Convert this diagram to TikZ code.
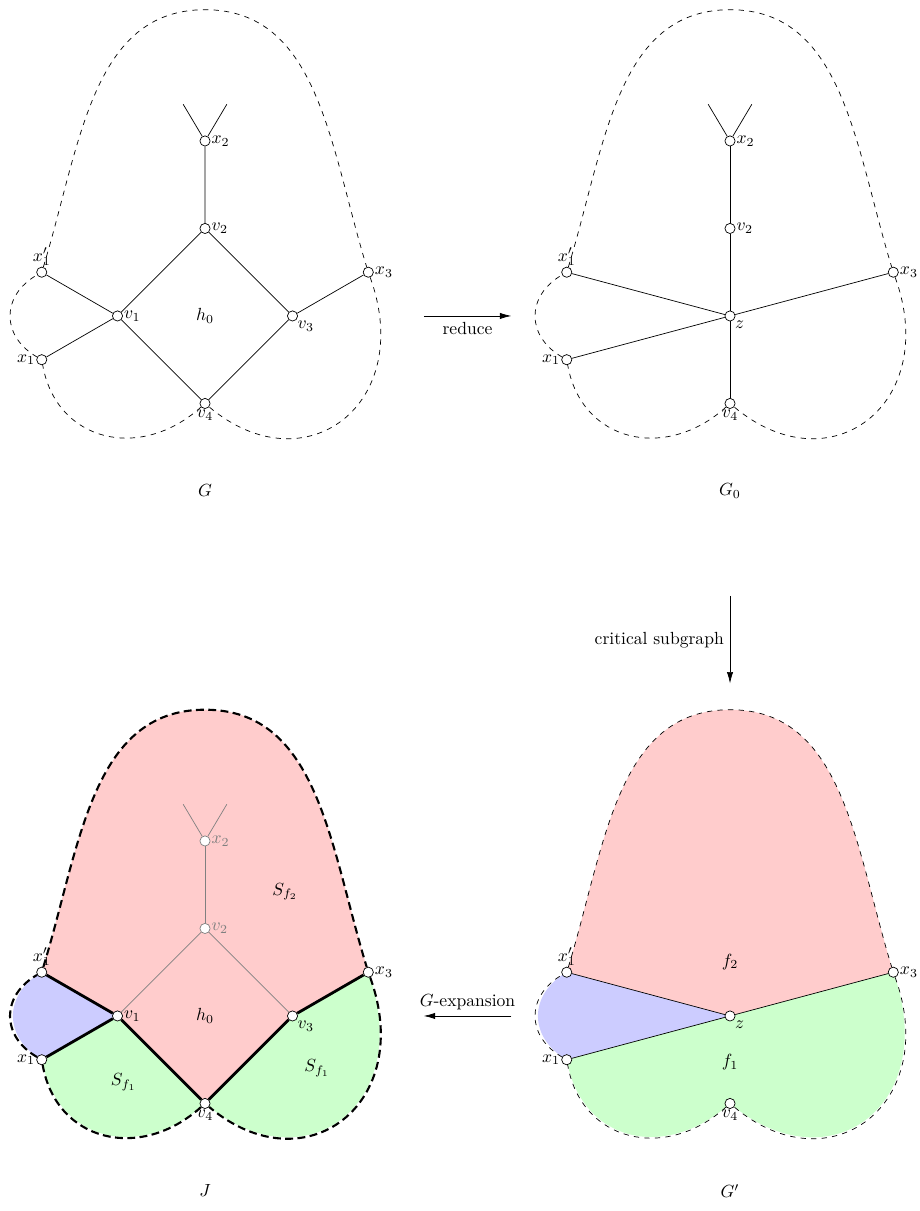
\documentclass[tikz,border=0pt]{standalone}
\usetikzlibrary{arrows.meta}
\tikzset{
  vert/.style={circle, draw, fill=white, inner sep=0pt, minimum size=5.8pt},
  lbl/.style={inner sep=0.5pt},
  rim/.style={dashed},
  bigrim/.style={very thick, dash pattern=on 4.5pt off 2.5pt},
  faint/.style={gray},
  heavy/.style={ultra thick},
  arr/.style={-{Latex[length=6.5pt,width=3.6pt]}},
}
\begin{document}
\begin{tikzpicture}[x=1.75cm, y=1.75cm]
\useasboundingbox (-2.343,-10.229) rectangle (8.171,3.611);

% G
\begin{scope}
  \node[vert, label={[lbl]right:$x_2$}] (Gx2) at (0,2) {};
  \node[vert, label={[lbl]right:$v_2$}] (Gv2) at (0,1) {};
  \node[vert, label={[lbl]right:$v_1$}] (Gv1) at (-1,0) {};
  \node[vert, label={[lbl]below right:$v_3$}] (Gv3) at (1,0) {};
  \node[vert, label={[lbl]below:$v_4$}] (Gv4) at (0,-1) {};
  \node[vert, label={[lbl]above:$x_1'$}] (Gy1) at (-1.866,0.5) {};
  \node[vert, label={[lbl]left:$x_1$}] (Gx1) at (-1.866,-0.5) {};
  \node[vert, label={[lbl]right:$x_3$}] (Gx3) at (1.866,0.5) {};
  \coordinate (Gtop) at (0,3.5);
  \coordinate (Gl) at (-0.25,2.42);
  \coordinate (Gr) at (0.25,2.42);
  \node (Gh0) at (0,0) {$h_0$};
  \node (G) at (0,-2) {$G$};
  \draw (Gl) -- (Gx2) -- (Gr);
  \draw (Gx2) -- (Gv2) -- (Gv1) -- (Gv4) -- (Gv3) -- (Gv2);
  \draw (Gy1) -- (Gv1) -- (Gx1);
  \draw (Gv3) -- (Gx3);
  \draw[rim] (Gy1) .. controls (-1.427,1.934) and (-1.3,3.5) .. (Gtop)
    .. controls (1.3,3.5) and (1.427,1.934) .. (Gx3)
    .. controls (2.41,-1) and (1.149,-1.964) .. (Gv4)
    .. controls (-0.743,-1.669) and (-1.7,-1.436) .. (Gx1)
    to[out=150,in=210,looseness=1.3] (Gy1);
\end{scope}

% reduce
\coordinate (r1) at (2.5,0);
\coordinate (r2) at (3.5,0);
\draw[arr] (r1) -- (r2) node[midway, below] {reduce};

% G_0
\begin{scope}[shift={(6,0)}]
  \node[vert, label={[lbl]right:$x_2$}] (Gox2) at (0,2) {};
  \node[vert, label={[lbl]right:$v_2$}] (Gov2) at (0,1) {};
  \node[vert, label={[lbl]below right:$z$}] (Goz) at (0,0) {};
  \node[vert, label={[lbl]below:$v_4$}] (Gov4) at (0,-1) {};
  \node[vert, label={[lbl]above:$x_1'$}] (Goy1) at (-1.866,0.5) {};
  \node[vert, label={[lbl]left:$x_1$}] (Gox1) at (-1.866,-0.5) {};
  \node[vert, label={[lbl]right:$x_3$}] (Gox3) at (1.866,0.5) {};
  \coordinate (Gotop) at (0,3.5);
  \coordinate (Gol) at (-0.25,2.42);
  \coordinate (Gor) at (0.25,2.42);
  \node (Go) at (0,-2) {$G_0$};
  \draw (Gol) -- (Gox2) -- (Gor);
  \draw (Gox2) -- (Gov2) -- (Goz) -- (Gov4);
  \draw (Goy1) -- (Goz);
  \draw (Gox1) -- (Goz) -- (Gox3);
  \draw[rim] (Goy1) .. controls (-1.427,1.934) and (-1.3,3.5) .. (Gotop)
    .. controls (1.3,3.5) and (1.427,1.934) .. (Gox3)
    .. controls (2.41,-1) and (1.149,-1.964) .. (Gov4)
    .. controls (-0.743,-1.669) and (-1.7,-1.436) .. (Gox1)
    to[out=150,in=210,looseness=1.3] (Goy1);
\end{scope}

% critical subgraph
\coordinate (c1) at (6,-3.2);
\coordinate (c2) at (6,-4.2);
\draw[arr] (c1) -- (c2) node[midway, left] {critical subgraph};

% J
\begin{scope}[shift={(0,-8)}]
  \fill[red!20] (-1.866,0.5) .. controls (-1.427,1.934) and (-1.3,3.5) .. (0,3.5)
    .. controls (1.3,3.5) and (1.427,1.934) .. (1.866,0.5)
    -- (1,0) -- (0,-1) -- (-1,0) -- cycle;
  \fill[green!20] (-1.866,-0.5) -- (-1,0) -- (0,-1)
    .. controls (-0.743,-1.669) and (-1.7,-1.436) .. (-1.866,-0.5) -- cycle;
  \fill[green!20] (0,-1) -- (1,0) -- (1.866,0.5)
    .. controls (2.41,-1) and (1.149,-1.964) .. (0,-1) -- cycle;
  \fill[blue!20] (-1.866,0.5) -- (-1,0) -- (-1.866,-0.5)
    to[out=150,in=210,looseness=1.3] (-1.866,0.5) -- cycle;
  \node[vert, draw=gray, label={[lbl, gray]right:$x_2$}] (Jx2) at (0,2) {};
  \node[vert, draw=gray, label={[lbl, gray]right:$v_2$}] (Jv2) at (0,1) {};
  \node[vert, label={[lbl]right:$v_1$}] (Jv1) at (-1,0) {};
  \node[vert, label={[lbl]below right:$v_3$}] (Jv3) at (1,0) {};
  \node[vert, label={[lbl]below:$v_4$}] (Jv4) at (0,-1) {};
  \node[vert, label={[lbl]above:$x_1'$}] (Jy1) at (-1.866,0.5) {};
  \node[vert, label={[lbl]left:$x_1$}] (Jx1) at (-1.866,-0.5) {};
  \node[vert, label={[lbl]right:$x_3$}] (Jx3) at (1.866,0.5) {};
  \coordinate (Jtop) at (0,3.5);
  \coordinate (Jl) at (-0.25,2.42);
  \coordinate (Jr) at (0.25,2.42);
  \node (Jh0) at (0,0) {$h_0$};
  \node (Jsf2) at (0.914,1.42) {$S_{f_2}$};
  \node (Jsf1a) at (-0.93,-0.76) {$S_{f_1}$};
  \node (Jsf1b) at (1.28,-0.6) {$S_{f_1}$};
  \node (J) at (0,-2) {$J$};
  \draw[faint] (Jl) -- (Jx2) -- (Jr);
  \draw[faint] (Jx2) -- (Jv2);
  \draw[faint] (Jv1) -- (Jv2) -- (Jv3);
  \draw[heavy] (Jy1) -- (Jv1) -- (Jx1);
  \draw[heavy] (Jv1) -- (Jv4) -- (Jv3) -- (Jx3);
  \draw[bigrim] (Jy1) .. controls (-1.427,1.934) and (-1.3,3.5) .. (Jtop)
    .. controls (1.3,3.5) and (1.427,1.934) .. (Jx3)
    .. controls (2.41,-1) and (1.149,-1.964) .. (Jv4)
    .. controls (-0.743,-1.669) and (-1.7,-1.436) .. (Jx1)
    to[out=150,in=210,looseness=1.3] (Jy1);
\end{scope}

% G-expansion
\coordinate (e1) at (3.5,-8);
\coordinate (e2) at (2.5,-8);
\draw[arr] (e1) -- (e2) node[midway, above] {$G$-expansion};

% G'
\begin{scope}[shift={(6,-8)}]
  \fill[red!20] (-1.866,0.5) .. controls (-1.427,1.934) and (-1.3,3.5) .. (0,3.5)
    .. controls (1.3,3.5) and (1.427,1.934) .. (1.866,0.5)
    -- (0,0) -- cycle;
  \fill[blue!20] (-1.866,0.5) -- (0,0) -- (-1.866,-0.5)
    to[out=150,in=210,looseness=1.3] (-1.866,0.5) -- cycle;
  \fill[green!20] (-1.866,-0.5) -- (0,0) -- (1.866,0.5)
    .. controls (2.41,-1) and (1.149,-1.964) .. (0,-1)
    .. controls (-0.743,-1.669) and (-1.7,-1.436) .. (-1.866,-0.5) -- cycle;
  \node[vert, label={[lbl]below right:$z$}] (Gpz) at (0,0) {};
  \node[vert, label={[lbl]below:$v_4$}] (Gpv4) at (0,-1) {};
  \node[vert, label={[lbl]above:$x_1'$}] (Gpy1) at (-1.866,0.5) {};
  \node[vert, label={[lbl]left:$x_1$}] (Gpx1) at (-1.866,-0.5) {};
  \node[vert, label={[lbl]right:$x_3$}] (Gpx3) at (1.866,0.5) {};
  \coordinate (Gptop) at (0,3.5);
  \node (Gpf2) at (0,0.62) {$f_2$};
  \node (Gpf1) at (0,-0.53) {$f_1$};
  \node (Gp) at (0,-2) {$G'$};
  \draw (Gpy1) -- (Gpz);
  \draw (Gpx1) -- (Gpz) -- (Gpx3);
  \draw[rim] (Gpy1) .. controls (-1.427,1.934) and (-1.3,3.5) .. (Gptop)
    .. controls (1.3,3.5) and (1.427,1.934) .. (Gpx3)
    .. controls (2.41,-1) and (1.149,-1.964) .. (Gpv4)
    .. controls (-0.743,-1.669) and (-1.7,-1.436) .. (Gpx1)
    to[out=150,in=210,looseness=1.3] (Gpy1);
\end{scope}
\end{tikzpicture}
\end{document}
